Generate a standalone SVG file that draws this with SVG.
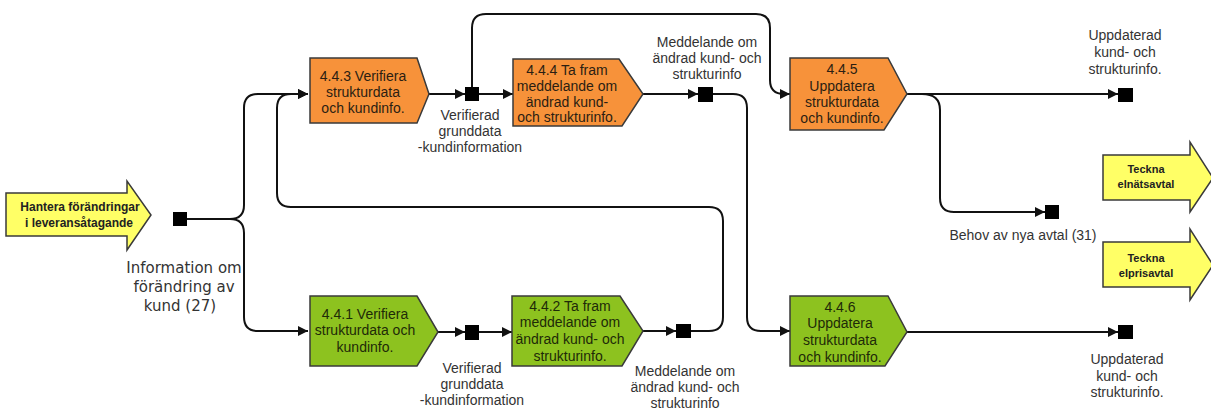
<svg xmlns="http://www.w3.org/2000/svg" width="1211" height="410" viewBox="0 0 1211 410">
<style>
.bg{fill:#fff}
.orange{fill:#F7923A;stroke:#3a3a3a;stroke-width:1.5}
.green{fill:#8DC21F;stroke:#3a3a3a;stroke-width:1.5}
.yellow{fill:#FFFF66;stroke:#3a3a3a;stroke-width:1.5}
.sq{fill:#000}
.conn path{fill:none;stroke:#111;stroke-width:2}
.bt{font-family:"Liberation Sans",Arial,sans-serif;font-size:14px;fill:#2b1e12;text-anchor:middle}
.gt{font-family:"Liberation Sans",Arial,sans-serif;font-size:14px;fill:#1e2a08;text-anchor:middle}
.lbl{font-family:"Liberation Sans",Arial,sans-serif;font-size:14px;fill:#333;text-anchor:middle}
.big{font-family:"DejaVu Sans",sans-serif;font-size:15px;fill:#333;text-anchor:middle}
.yb{font-family:"Liberation Sans",Arial,sans-serif;font-weight:bold;fill:#222;text-anchor:middle}
</style>
<defs>
<marker id="arr" viewBox="0 0 10 10" refX="10" refY="5" markerWidth="11" markerHeight="10" markerUnits="userSpaceOnUse" orient="auto">
<path d="M0,0 L10,5 L0,10 Z" fill="#111"/>
</marker>
</defs>
<rect class="bg" x="0" y="0" width="1211" height="410"/>

<g id="connectors" class="conn">
<path d="M187,219 L230,219 Q244,219 244,205 L244,108 Q244,94 258,94 L308,94" marker-end="url(#arr)"/>
<path d="M230,219 Q244,219 244,233 L244,317 Q244,331 258,331 L308,331" marker-end="url(#arr)"/>
<path d="M691,331 L709,331 Q723,331 723,317 L723,221 Q723,207 709,207 L291,207 Q277,207 277,193 L277,108 Q277,94 291,94 L308,94" marker-end="url(#arr)"/>
<path d="M713,94 L733,94 Q747,94 747,108 L747,317 Q747,331 761,331 L790,331" marker-end="url(#arr)"/>
<path d="M472,87 L472,28 Q472,14 486,14 L756,14 Q770,14 770,28 L770,80 Q770,94 784,94 L790,94" marker-end="url(#arr)"/>
<path d="M428,94 L465,94" marker-end="url(#arr)"/>
<path d="M479,94 L513,94" marker-end="url(#arr)"/>
<path d="M643,94 L698,94" marker-end="url(#arr)"/>
<path d="M907,94 L1118,94" marker-end="url(#arr)"/>
<path d="M922,94 Q940,94 940,110 L940,198 Q940,212 954,212 L1045,212" marker-end="url(#arr)"/>
<path d="M438,332 L465,332" marker-end="url(#arr)"/>
<path d="M479,332 L512,332" marker-end="url(#arr)"/>
<path d="M643,331 L676,331" marker-end="url(#arr)"/>
<path d="M907,332 L1118,332" marker-end="url(#arr)"/>
</g>

<g id="start-hantera">
<path class="yellow" d="M6,193 L127,193 L127,181 L151,215 L127,250 L127,236 L6,236 Z"/>
<text class="yb" font-size="12" x="80" y="211">Hantera förändringar</text>
<text class="yb" font-size="12" x="79" y="227">i leveransåtagande</text>
</g>

<g id="d-info-forandring">
<rect class="sq" x="173" y="212" width="14" height="14"/>
<text class="big" x="184" y="273">Information om</text>
<text class="big" x="184" y="292">förändring av</text>
<text class="big" x="180" y="311">kund (27)</text>
</g>

<g id="p443">
<path class="orange" d="M310,58 L417,58 L429,94 L417,123 L310,123 Z"/>
<text class="bt" x="363" y="81">4.4.3 Verifiera</text>
<text class="bt" x="363" y="97">strukturdata</text>
<text class="bt" x="363" y="113">och kundinfo.</text>
</g>

<g id="d-verifierad-top">
<rect class="sq" x="465" y="87" width="14" height="14"/>
<text class="lbl" x="470" y="120">Verifierad</text>
<text class="lbl" x="470" y="136">grunddata</text>
<text class="lbl" x="470" y="152">-kundinformation</text>
</g>

<g id="p444">
<path class="orange" d="M513,59 L619,59 L643,94 L622,126 L513,126 Z"/>
<text class="bt" x="567" y="75">4.4.4 Ta fram</text>
<text class="bt" x="567" y="91">meddelande om</text>
<text class="bt" x="567" y="107">ändrad kund-</text>
<text class="bt" x="567" y="122">och strukturinfo.</text>
</g>

<g id="d-meddelande-top">
<rect class="sq" x="698" y="87" width="15" height="15"/>
<text class="lbl" x="707" y="47">Meddelande om</text>
<text class="lbl" x="707" y="63">ändrad kund- och</text>
<text class="lbl" x="707" y="79">strukturinfo</text>
</g>

<g id="p445">
<path class="orange" d="M790,58 L888,58 L907,94 L884,130 L790,130 Z"/>
<text class="bt" x="842" y="74">4.4.5</text>
<text class="bt" x="842" y="91">Uppdatera</text>
<text class="bt" x="842" y="107">strukturdata</text>
<text class="bt" x="842" y="123">och kundinfo.</text>
</g>

<g id="d-uppdaterad-top">
<rect class="sq" x="1118" y="88" width="15" height="14"/>
<text class="lbl" x="1125" y="40">Uppdaterad</text>
<text class="lbl" x="1125" y="57">kund- och</text>
<text class="lbl" x="1125" y="74">strukturinfo.</text>
</g>

<g id="d-behov">
<rect class="sq" x="1045" y="205" width="14" height="14"/>
<text class="lbl" x="1023" y="240">Behov av nya avtal (31)</text>
</g>

<g id="end-elnat">
<path class="yellow" d="M1103,155 L1190,155 L1190,142 L1213,178 L1190,212 L1190,200 L1103,200 Z"/>
<text class="yb" font-size="11" x="1146" y="173">Teckna</text>
<text class="yb" font-size="11" x="1146" y="188">elnätsavtal</text>
</g>

<g id="end-elpris">
<path class="yellow" d="M1103,242 L1190,242 L1190,229 L1213,265 L1190,300 L1190,287 L1103,287 Z"/>
<text class="yb" font-size="11" x="1146" y="262">Teckna</text>
<text class="yb" font-size="11" x="1146" y="277">elprisavtal</text>
</g>

<g id="p441">
<path class="green" d="M310,296 L417,296 L438,332 L417,366 L310,366 Z"/>
<text class="gt" x="365" y="319">4.4.1 Verifiera</text>
<text class="gt" x="365" y="335">strukturdata och</text>
<text class="gt" x="365" y="352">kundinfo.</text>
</g>

<g id="d-verifierad-bottom">
<rect class="sq" x="465" y="325" width="14" height="15"/>
<text class="lbl" x="472" y="373">Verifierad</text>
<text class="lbl" x="472" y="389">grunddata</text>
<text class="lbl" x="472" y="405">-kundinformation</text>
</g>

<g id="p442">
<path class="green" d="M512,296 L620,296 L643,331 L622,366 L512,366 Z"/>
<text class="gt" x="570" y="311">4.4.2 Ta fram</text>
<text class="gt" x="570" y="327">meddelande om</text>
<text class="gt" x="570" y="344">ändrad kund- och</text>
<text class="gt" x="570" y="361">strukturinfo.</text>
</g>

<g id="d-meddelande-bottom">
<rect class="sq" x="676" y="324" width="15" height="14"/>
<text class="lbl" x="685" y="376">Meddelande om</text>
<text class="lbl" x="685" y="392">ändrad kund- och</text>
<text class="lbl" x="685" y="408">strukturinfo</text>
</g>

<g id="p446">
<path class="green" d="M790,296 L888,296 L907,332 L885,366 L790,366 Z"/>
<text class="gt" x="840" y="312">4.4.6</text>
<text class="gt" x="840" y="328">Uppdatera</text>
<text class="gt" x="840" y="345">strukturdata</text>
<text class="gt" x="840" y="362">och kundinfo.</text>
</g>

<g id="d-uppdaterad-bottom">
<rect class="sq" x="1118" y="325" width="15" height="14"/>
<text class="lbl" x="1127" y="364">Uppdaterad</text>
<text class="lbl" x="1127" y="381">kund- och</text>
<text class="lbl" x="1127" y="397">strukturinfo.</text>
</g>
</svg>
